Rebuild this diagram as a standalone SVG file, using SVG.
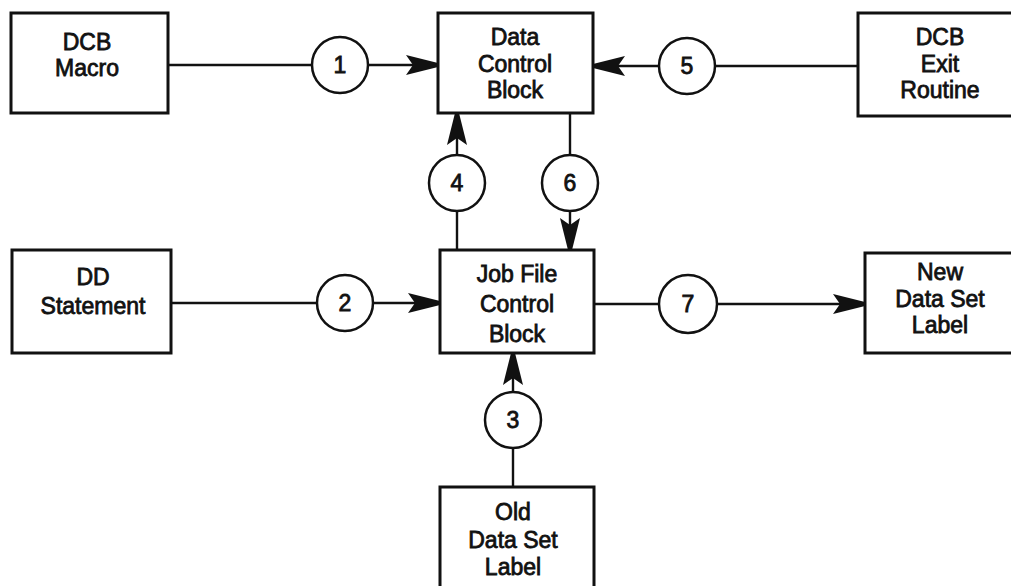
<svg xmlns="http://www.w3.org/2000/svg" width="1011" height="586" viewBox="0 0 1011 586">
<defs>
<style>
.box{fill:#fff;stroke:#111;stroke-width:3}
.cir{fill:#fff;stroke:#111;stroke-width:2.5}
.ln{fill:none;stroke:#111;stroke-width:2.4}
text{font-family:"Liberation Sans",Arial,sans-serif;font-size:23px;fill:#111;stroke:#111;stroke-width:0.8;text-anchor:middle}
</style>
<marker id="ah" markerUnits="userSpaceOnUse" markerWidth="34" markerHeight="24" refX="32" refY="12" orient="auto">
<path d="M0,2 L32,10 L32,14 L0,22 L7,12 Z" fill="#111"/>
</marker>
</defs>
<rect width="1011" height="586" fill="#fff"/>
<g id="connectors">
<line class="ln" x1="168" y1="65" x2="312" y2="65"/>
<line class="ln" x1="369" y1="65" x2="438" y2="65" marker-end="url(#ah)"/>
<line class="ln" x1="858" y1="66" x2="715" y2="66"/>
<line class="ln" x1="659" y1="66" x2="593" y2="66" marker-end="url(#ah)"/>
<line class="ln" x1="570" y1="113" x2="570" y2="155"/>
<line class="ln" x1="570" y1="211" x2="570" y2="250" marker-end="url(#ah)"/>
<line class="ln" x1="457" y1="250" x2="457" y2="211"/>
<line class="ln" x1="457" y1="155" x2="457" y2="113" marker-end="url(#ah)"/>
<line class="ln" x1="171" y1="303" x2="317" y2="303"/>
<line class="ln" x1="373" y1="303" x2="440" y2="303" marker-end="url(#ah)"/>
<line class="ln" x1="594" y1="304" x2="659" y2="304"/>
<line class="ln" x1="717" y1="304" x2="865" y2="304" marker-end="url(#ah)"/>
<line class="ln" x1="513" y1="487" x2="513" y2="448"/>
<line class="ln" x1="513" y1="392" x2="513" y2="353" marker-end="url(#ah)"/>
</g>
<g id="n-dcb-macro"><rect class="box" x="11" y="13" width="157" height="100"/><text x="87" y="50">DCB</text><text x="87" y="76">Macro</text></g>
<g id="n-dcb"><rect class="box" x="438" y="13" width="155" height="100"/><text x="515" y="45">Data</text><text x="515" y="72">Control</text><text x="515" y="98">Block</text></g>
<g id="n-dcb-exit"><rect class="box" x="858" y="13" width="170" height="103"/><text x="940" y="45">DCB</text><text x="940" y="72">Exit</text><text x="940" y="98">Routine</text></g>
<g id="n-dd"><rect class="box" x="12" y="250" width="159" height="103"/><text x="93" y="285">DD</text><text x="93" y="314">Statement</text></g>
<g id="n-jfcb"><rect class="box" x="440" y="250" width="154" height="103"/><text x="517" y="282">Job File</text><text x="517" y="312">Control</text><text x="517" y="342">Block</text></g>
<g id="n-new"><rect class="box" x="865" y="253" width="160" height="100"/><text x="940" y="280">New</text><text x="940" y="307">Data Set</text><text x="940" y="333">Label</text></g>
<g id="n-old"><rect class="box" x="440" y="487" width="154" height="110"/><text x="513" y="520">Old</text><text x="513" y="548">Data Set</text><text x="513" y="575">Label</text></g>
<g id="c1"><circle class="cir" cx="340" cy="65" r="28"/><text x="340" y="73">1</text></g>
<g id="c2"><circle class="cir" cx="345" cy="303" r="28"/><text x="345" y="311">2</text></g>
<g id="c3"><circle class="cir" cx="513" cy="420" r="28"/><text x="513" y="428">3</text></g>
<g id="c4"><circle class="cir" cx="457" cy="183" r="28"/><text x="457" y="191">4</text></g>
<g id="c5"><circle class="cir" cx="687" cy="66" r="28"/><text x="687" y="74">5</text></g>
<g id="c6"><circle class="cir" cx="570" cy="183" r="28"/><text x="570" y="191">6</text></g>
<g id="c7"><circle class="cir" cx="688" cy="304" r="29"/><text x="688" y="312">7</text></g>
</svg>
